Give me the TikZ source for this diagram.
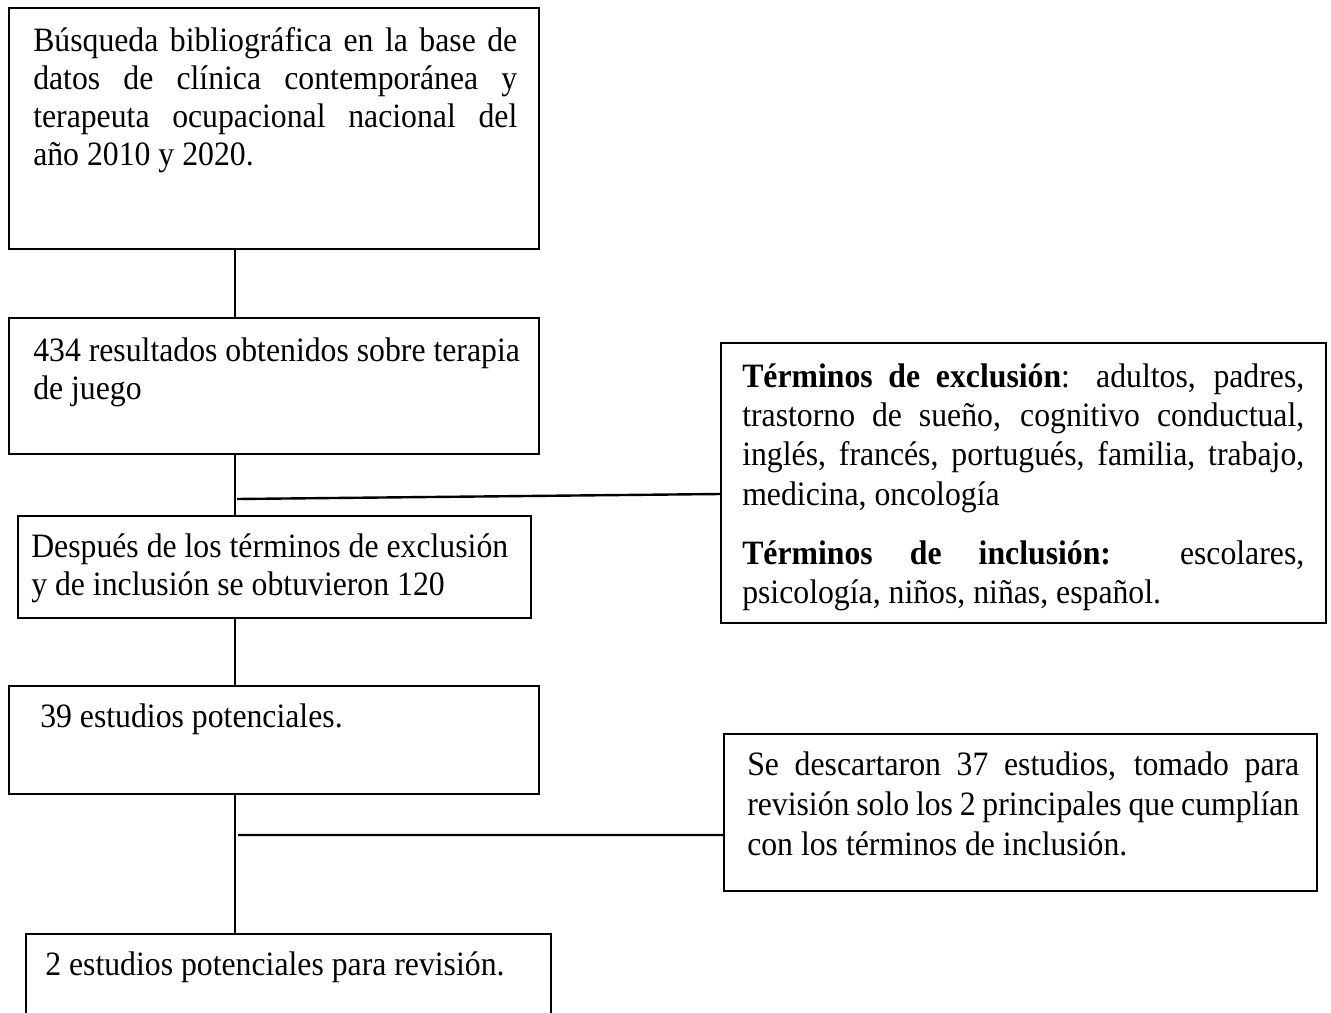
\documentclass[tikz,border=0pt]{standalone}
\usepackage{fontspec}
\setmainfont{Liberation Serif}[FakeStretch=0.93]
\usetikzlibrary{fit}
\begin{document}
\begin{tikzpicture}[x=0.75pt,y=-0.75pt,
  box/.style={draw, line width=1.1pt, inner sep=0pt, fit={#1}},
  txt/.style={inner sep=0pt, anchor=north west, align=left,
    font=\fontsize{25.6pt}{28.5pt}\selectfont},
  txtwide/.style={inner sep=0pt, anchor=north west, align=left,
    font=\fontsize{25.6pt}{29.5pt}\selectfont},
  link/.style={line width=1.3pt},
  branch/.style={line width=1.8pt}]
\useasboundingbox (0,0) rectangle (1331,1013);

% main column of boxes
\node[box={(9,8) (539,249)}] (b1) {};
\node[box={(9,318) (539,454)}] (b2) {};
\node[box={(18,516) (531,618)}] (b3) {};
\node[box={(9,686) (539,794)}] (b4) {};
\node[box={(26,934) (551,1040)}] (b5) {};
% side boxes
\node[box={(721,343) (1326,623)}] (ex) {};
\node[box={(724,734) (1317,891)}] (dc) {};

% texts
\node[txt] (t1) at (33,24.4) {\strut\makebox[363pt][s]{Búsqueda bibliográfica en la base de}\\
  \makebox[363pt][s]{datos de clínica contemporánea y}\\
  \makebox[363pt][s]{terapeuta ocupacional nacional del}\\
  año 2010 y 2020.};
\node[txt] (t2) at (33,335) {\strut 434 resultados obtenidos sobre terapia\\ de juego};
\node[txt] (t3) at (31,530.4) {\strut Después de los términos de exclusión\\ y de inclusión se obtuvieron 120};
\node[txt] (t4) at (40,701) {\strut 39 estudios potenciales.};
\node[txt] (t5) at (45,949) {\strut 2 estudios potenciales para revisión.};
\node[txtwide] (tx) at (742,359.5) {\strut\makebox[421.5pt][s]{\textbf{Términos de exclusión}: adultos, padres,}\\
  \makebox[421.5pt][s]{trastorno de sueño, cognitivo conductual,}\\
  \makebox[421.5pt][s]{inglés, francés, portugués, familia, trabajo,}\\
  medicina, oncología\\[15pt]
  \makebox[421.5pt][s]{\textbf{Términos de inclusión:} escolares,}\\
  psicología, niños, niñas, español.};
\node[txtwide] (td) at (747,748) {\strut\makebox[414pt][s]{Se descartaron 37 estudios, tomado para}\\[0.5pt]
  \makebox[414pt][s]{revisión solo los 2 principales que cumplían}\\[0.5pt]
  con los términos de inclusión.};

% vertical spine
\coordinate (sp) at (235,0);
\draw[link] (b1.south -| sp) -- (b2.north -| sp);
\draw[link] (b2.south -| sp) -- (b3.north -| sp);
\draw[link] (b3.south -| sp) -- (b4.north -| sp);
\draw[link] (b4.south -| sp) -- (b5.north -| sp);

% side branches
\coordinate (j1) at (237,499);
\coordinate (j2) at (238,835);
\draw[branch] (j1) -- ([yshift=-8.25pt]ex.west);
\draw[branch] (j2) -- ([yshift=-16.9pt]dc.west);
\end{tikzpicture}
\end{document}
